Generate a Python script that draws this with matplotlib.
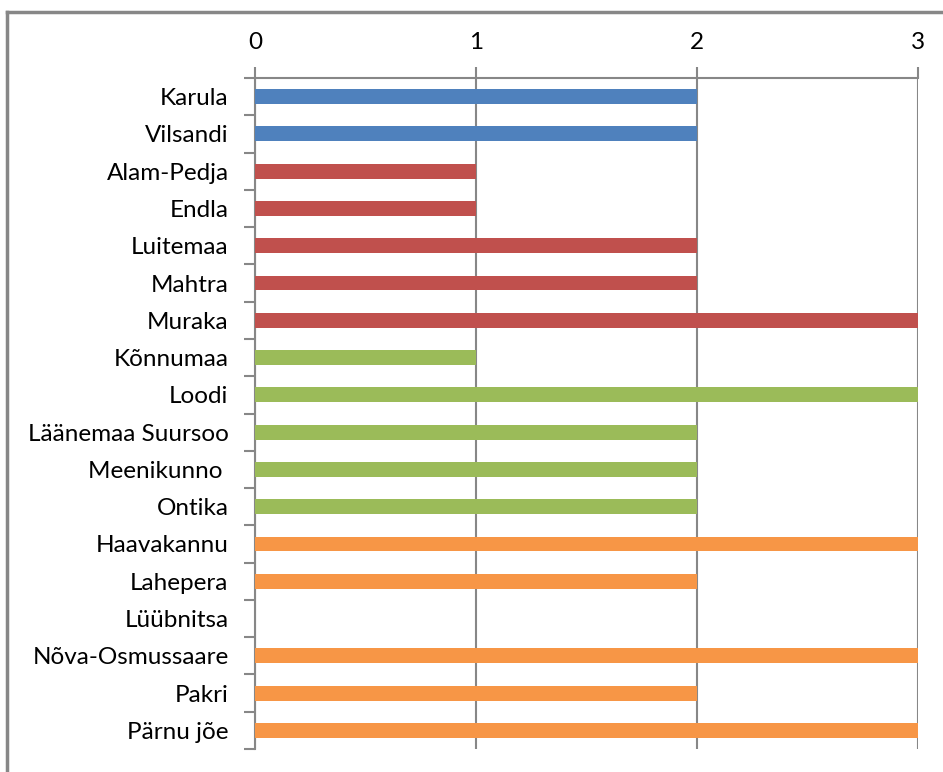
import numpy as np
import matplotlib
matplotlib.use('Agg')
import matplotlib.pyplot as plt
import matplotlib.lines as mlines

# data
names = ['Karula', 'Vilsandi', 'Alam-Pedja', 'Endla', 'Luitemaa', 'Mahtra',
         'Muraka', 'Kõnnumaa', 'Loodi', 'Läänemaa Suursoo', 'Meenikunno ',
         'Ontika', 'Haavakannu', 'Lahepera', 'Lüübnitsa', 'Nõva-Osmussaare',
         'Pakri', 'Pärnu jõe']
values = [2, 2, 1, 1, 2, 2, 3, 1, 3, 2, 2, 2, 3, 2, 0, 3, 2, 3]
groups = [0, 0, 1, 1, 1, 1, 1, 2, 2, 2, 2, 2, 3, 3, 3, 3, 3, 3]
group_colors = ['#4F81BD', '#C0504D', '#9BBB59', '#F79646']

grey = '#878787'
plt.rcParams['font.family'] = ['Lato', 'DejaVu Sans']

fig = plt.figure(figsize=(9.43, 7.72), dpi=100)
ax = fig.add_axes([255 / 943, 1 - 749 / 772, (918 - 255) / 943, (749 - 78) / 772])

y = np.arange(len(names))
ax.barh(y, values, height=0.4, color=[group_colors[g] for g in groups], zorder=3)

ax.set_xlim(0, 3)
ax.set_ylim(len(names) - 0.5, -0.5)

# x axis on top
ax.xaxis.tick_top()
ax.set_xticks([0, 1, 2, 3])
ax.tick_params(axis='x', direction='out', length=8, width=1.5, color=grey,
               labelsize=17.5, pad=10)
ax.grid(axis='x', color=grey, linewidth=1.5, zorder=1)

# category labels between tick marks
ax.set_yticks(np.arange(len(names) + 1) - 0.5)
ax.set_yticklabels([])
ax.set_yticks(y, minor=True)
ax.set_yticklabels(names, minor=True)
ax.tick_params(axis='y', which='major', direction='out', length=8, width=1.5,
               color=grey)
ax.tick_params(axis='y', which='minor', length=0, labelsize=17.5, pad=19)

for side in ['bottom', 'right']:
    ax.spines[side].set_visible(False)
for side in ['top', 'left']:
    ax.spines[side].set_color(grey)
    ax.spines[side].set_linewidth(1.5)

# outer frame (only left and top visible in the crop)
fx = 7.5 / 943
fy = 1 - 11.5 / 772
fig.add_artist(mlines.Line2D([fx, fx], [0, fy], color=grey, linewidth=2.5,
                             transform=fig.transFigure))
fig.add_artist(mlines.Line2D([fx, 1], [fy, fy], color=grey, linewidth=2.5,
                             transform=fig.transFigure))

fig.savefig('out.png', dpi=100)
